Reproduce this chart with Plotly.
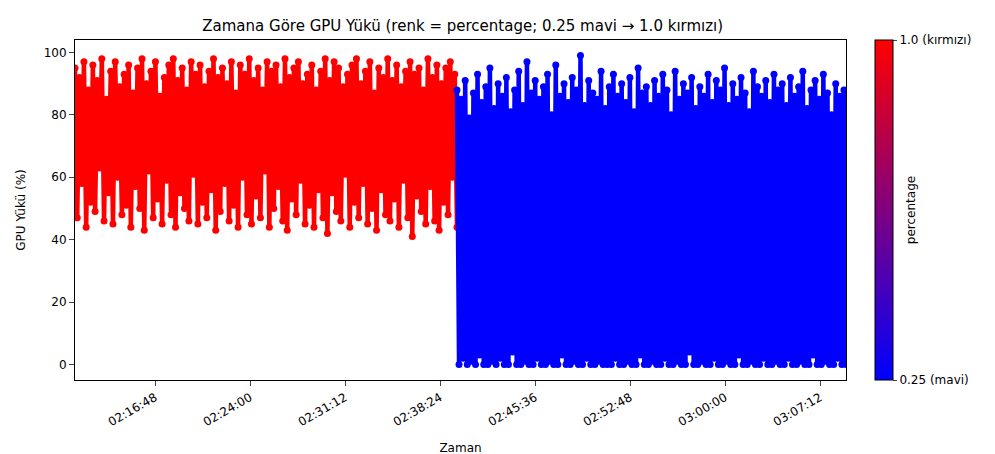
import pandas as pd
import plotly.graph_objects as go

# GPU yükü değerleri (%), resimden okunmuş yaklaşık örnekler
kirmizi_yuk = [
    95, 47, 92, 58, 97, 44, 88, 52, 96, 49, 91, 63, 98, 46, 85, 55, 94, 45, 97, 60, 89, 48, 93, 51, 96, 44, 87, 57, 95, 50, 98, 43, 90, 62, 94, 47, 97, 53, 86, 45,
    92, 59, 96, 48, 98, 44, 91, 55, 95, 50, 88, 46, 97, 61, 93, 45, 96, 52, 89, 47, 94, 56, 98, 43, 92, 49, 95, 58, 90, 46, 97, 51, 87, 44, 96, 60, 93, 48, 98, 45,
    91, 54, 95, 47, 88, 62, 97, 44, 94, 50, 96, 57, 89, 46, 98, 43, 92, 53, 95, 48, 97, 59, 90, 45, 93, 51, 96, 44, 88, 56, 94, 47, 98, 42, 91, 55, 97, 49, 95, 46,
    89, 61, 93, 44, 96, 52, 98, 47, 90, 58, 94, 45, 97, 50, 87, 43, 95, 56, 92, 48, 98, 46, 91, 53, 96, 44, 89, 59, 94, 47, 97, 41, 93, 54, 95, 49, 88, 45, 98, 57,
    92, 46, 96, 43, 90, 52, 95, 48, 97, 60, 93, 44,
]
mavi_yuk = [
    88, 0, 85, 2, 91, 0, 79, 1, 87, 0, 93, 3, 84, 0, 89, 0, 95, 1, 82, 0, 90, 2, 86, 0, 92, 0, 81, 4, 88, 0, 94, 0, 83, 1, 97, 0, 87, 0, 91, 2,
    85, 0, 89, 0, 93, 1, 80, 0, 96, 0, 86, 3, 90, 0, 84, 0, 92, 1, 88, 0, 99, 0, 83, 2, 91, 0, 87, 0, 85, 1, 94, 0, 82, 0, 89, 0, 93, 2, 86, 0,
    90, 0, 84, 1, 92, 0, 81, 0, 95, 3, 87, 0, 89, 0, 83, 1, 91, 0, 86, 0, 93, 2, 88, 0, 80, 0, 94, 1, 85, 0, 90, 0, 87, 4, 92, 0, 82, 0, 89, 1,
    86, 0, 93, 0, 84, 2, 91, 0, 88, 0, 95, 1, 83, 0, 90, 0, 85, 3, 92, 0, 87, 0, 81, 1, 94, 0, 89, 0, 86, 2, 91, 0, 84, 0, 93, 1, 88, 0, 90, 0,
    83, 2, 92, 0, 86, 0, 89, 1, 94, 0, 82, 0, 88, 3, 91, 0, 85, 0, 93, 1, 87, 0, 80, 0, 90, 2, 86, 0, 88, 0,
]
kirmizi_zaman = pd.date_range("2024-01-01 02:10:44", "2024-01-01 02:39:41", periods=len(kirmizi_yuk))
mavi_zaman = pd.date_range("2024-01-01 02:39:41", "2024-01-01 03:09:10", periods=len(mavi_yuk))

fig = go.Figure()
for x, y, renk in [(kirmizi_zaman, kirmizi_yuk, "#ff0000"), (mavi_zaman, mavi_yuk, "#0000ff")]:
    fig.add_trace(go.Scatter(
        x=x, y=y, mode="lines+markers",
        line=dict(color=renk, width=4.5),
        marker=dict(color=renk, size=7),
        showlegend=False,
    ))

# renk çubuğu için görünmez iz
fig.add_trace(go.Scatter(
    x=[kirmizi_zaman[0]], y=[50], mode="markers", showlegend=False, hoverinfo="skip",
    marker=dict(
        size=0.1, color=[0.25], cmin=0.25, cmax=1.0, opacity=0,
        colorscale=[[0, "#0000ff"], [1, "#ff0000"]],
        colorbar=dict(
            x=1.025, xanchor="left", y=0.5, len=1.0, thickness=18, ypad=0,
            tickvals=[0.25, 1.0], ticktext=["0.25 (mavi)", "1.0 (kırmızı)"],
            ticks="outside", ticklen=4, outlinecolor="black", outlinewidth=1,
            title=dict(text="percentage", side="right", font=dict(size=12)),
        ),
    ),
))

eksen = dict(showline=True, linecolor="black", mirror=True, ticks="outside", automargin=False,
             showgrid=False, zeroline=False, tickfont=dict(size=12, color="black"))
fig.update_xaxes(
    **eksen, title=dict(text="Zaman", font=dict(size=12)),
    range=["2024-01-01 02:10:44", "2024-01-01 03:09:10"],
    tick0="2024-01-01 02:16:48", dtick=432000, tickformat="%H:%M:%S", tickangle=-30,
)
fig.update_yaxes(**eksen, title=dict(text="GPU Yükü (%)", font=dict(size=12)),
                 range=[-5, 104], dtick=20)

fig.update_layout(
    title=dict(text="Zamana Göre GPU Yükü (renk = percentage; 0.25 mavi → 1.0 kırmızı)",
               x=0.457, xanchor="center", y=0.96, yanchor="middle", automargin=False,
               font=dict(size=15, color="black")),
    font=dict(family="DejaVu Sans", color="black"),
    paper_bgcolor="white", plot_bgcolor="white",
    width=995, height=454,
    margin=dict(l=67, r=157, t=32, b=82, autoexpand=False),
)

fig.write_html("out.html")
